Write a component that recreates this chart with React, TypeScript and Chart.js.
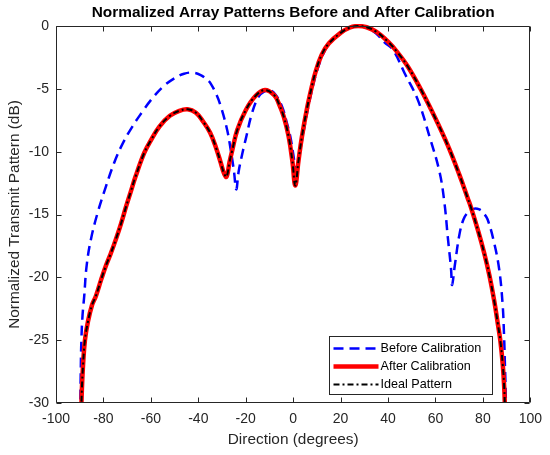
import { useEffect, useRef } from "react";
import { Chart, registerables } from "chart.js";

Chart.register(...registerables);

const FONT = "'Liberation Sans', Arial, Helvetica, sans-serif";

const chartTitle = "Normalized Array Patterns Before and After Calibration";
const xAxisTitle = "Direction (degrees)";
const yAxisTitle = "Normalized Transmit Pattern (dB)";

const xMin = -100;
const xMax = 100;
const xStep = 20;
const yMin = -30;
const yMax = 0;
const yStep = 5;

const seriesLabels = ["Before Calibration", "After Calibration", "Ideal Pattern"];

// Ideal pattern (after calibration overlaps it)
const idealAngles = [
  -89.4, -89.1, -88.6, -87.8, -86.5, -84.8, -83.2, -81, -79, -76.9, -74.8, -72.7, -70.5, -68.5,
  -66.5, -62.8, -60, -56.4, -52, -48, -44.5, -41, -38, -35, -32.5, -30.5, -29.2, -28.1, -26.8,
  -25.7, -23.6, -20, -15.8, -11.9, -8, -6.1, -4, -1.9, -0.3, 0.9, 2.2, 3.7, 5.8, 7.9, 9.3, 12,
  15, 20, 24, 27.5, 31, 35, 40, 44, 48.4, 54, 59.6, 65.2, 70.1, 73.6, 75, 78, 80.6, 82.8, 84.8,
  86.3, 87.4, 88.4, 89, 89.4,
];
const idealPattern = [
  -31, -29, -27, -25, -23.5, -22.2, -21.5, -20.2, -19.1, -18.1, -17.0, -15.8, -14.4, -13.2,
  -12.0, -10.1, -9.1, -8.0, -7.15, -6.75, -6.63, -6.9, -7.6, -8.5, -9.7, -10.9, -11.7, -12.0,
  -10.8, -9.9, -8.3, -6.7, -5.55, -5.1, -5.5, -6.15, -7.2, -8.8, -10.8, -12.7, -10.8, -8.8, -6.6,
  -4.8, -3.75, -2.3, -1.4, -0.55, -0.12, 0, -0.1, -0.45, -1.25, -2.1, -3.24, -5.1, -7.2, -9.5,
  -11.85, -13.7, -14.45, -16.3, -18.1, -19.9, -21.9, -23.7, -25.1, -27, -28.8, -31,
];
const afterPattern = [
  -31, -29, -27, -25, -23.5, -22.2, -21.5, -20.2, -19.1, -18.1, -17.0, -15.8, -14.4, -13.2,
  -12.0, -10.1, -9.1, -8.0, -7.15, -6.75, -6.63, -6.9, -7.6, -8.5, -9.7, -10.9, -11.7, -12.0,
  -10.8, -9.9, -8.3, -6.7, -5.55, -5.1, -5.5, -6.15, -7.2, -8.8, -10.8, -12.7, -10.8, -8.8, -6.6,
  -4.8, -3.75, -2.3, -1.4, -0.55, -0.12, 0, -0.1, -0.45, -1.25, -2.1, -3.24, -5.1, -7.2, -9.5,
  -11.85, -13.7, -14.45, -16.3, -18.1, -19.9, -21.9, -23.7, -25.1, -27, -28.8, -31,
];

// Before calibration
const beforeAngles = [
  -89.8, -89.6, -89.3, -88.8, -88.1, -87.1, -85.3, -82.5, -79, -75.5, -72, -67.8, -63.5, -60,
  -55, -50, -46, -42.4, -39, -36.1, -34.7, -32.5, -30.5, -27.8, -26.3, -25.0, -24.0, -23, -21.5,
  -20, -17.3, -14.5, -12, -10, -7.5, -4.7, -2.8, -1.2, 0.2, 1.3, 2.5, 4.4, 6.3, 8.3, 10, 12.5,
  15, 20, 24, 27.5, 31, 35, 38.5, 42.1, 47, 52.6, 57.5, 61.7, 63.8, 65.2, 66.6, 67.0, 68.2, 70.1,
  71.8, 73.6, 76, 78.5, 80.3, 82, 84.8, 86.9, 88.3, 88.9, 89.3, 89.6, 89.8,
];
const beforePattern = [
  -31, -28, -25, -23, -21.5, -19.1, -17.0, -14.9, -12.8, -10.9, -9.4, -8.0, -6.8, -5.9, -4.85,
  -4.15, -3.8, -3.71, -3.9, -4.3, -4.6, -5.4, -6.4, -8.3, -9.9, -11.5, -13.0, -11.6, -10.2, -9.0,
  -6.9, -5.6, -5.2, -5.1, -5.45, -6.4, -7.6, -8.8, -10.4, -11.7, -10.4, -8.4, -6.5, -4.8, -3.6,
  -2.3, -1.45, -0.55, -0.12, 0, -0.15, -0.6, -1.3, -1.9, -3.76, -5.9, -8.8, -11.6, -14.1, -16.8,
  -19.4, -20.6, -19.0, -16.6, -15.4, -14.85, -14.55, -14.6, -14.9, -15.4, -17.3, -19.4, -22.1,
  -24.5, -27, -29, -31,
];

const toPoints = (xs: number[], ys: number[]) => xs.map((x, i) => ({ x, y: ys[i] }));

const framePlugin = {
  id: "matlabFrame",
  afterDatasetsDraw(chart: any) {
    const { ctx, chartArea: a, scales } = chart;
    const L = Math.round(a.left) + 0.5;
    const R = Math.round(a.right) - 0.5;
    const T = Math.round(a.top) + 0.5;
    const B = Math.round(a.bottom) - 0.5;
    ctx.save();
    ctx.strokeStyle = "#262626";
    ctx.lineWidth = 1;
    ctx.beginPath();
    ctx.rect(L, T, R - L, B - T);
    const tl = 5;
    scales.x.ticks.forEach((t: any) => {
      const px = Math.round(scales.x.getPixelForValue(t.value)) + 0.5;
      ctx.moveTo(px, B);
      ctx.lineTo(px, B - tl);
      ctx.moveTo(px, T);
      ctx.lineTo(px, T + tl);
    });
    scales.y.ticks.forEach((t: any) => {
      const py = Math.round(scales.y.getPixelForValue(t.value)) + 0.5;
      ctx.moveTo(L, py);
      ctx.lineTo(L + tl, py);
      ctx.moveTo(R, py);
      ctx.lineTo(R - tl, py);
    });
    ctx.stroke();
    ctx.restore();
  },
};

const titleLegendPlugin = {
  id: "titleLegend",
  afterDraw(chart: any) {
    const { ctx, chartArea: a } = chart;
    ctx.save();
    ctx.fillStyle = "#000";
    ctx.font = `bold 15.4px ${FONT}`;
    ctx.textAlign = "center";
    ctx.textBaseline = "middle";
    ctx.fillText(chartTitle, (a.left + a.right) / 2, 13);

    const w = 163;
    const h = 58;
    const x0 = Math.round(a.right) - 201 + 0.5;
    const y0 = Math.round(a.bottom) - 67 + 0.5;
    ctx.fillStyle = "#fff";
    ctx.fillRect(x0, y0, w, h);
    ctx.strokeStyle = "#262626";
    ctx.lineWidth = 1;
    ctx.strokeRect(x0, y0, w, h);
    const ds = chart.data.datasets;
    ds.forEach((d: any, i: number) => {
      const yy = y0 + 12 + i * 18;
      ctx.save();
      ctx.strokeStyle = d.borderColor;
      ctx.lineWidth = d.borderWidth;
      ctx.setLineDash(d.borderDash || []);
      ctx.beginPath();
      ctx.moveTo(x0 + 4, yy);
      ctx.lineTo(x0 + 49, yy);
      ctx.stroke();
      ctx.restore();
      ctx.fillStyle = "#000";
      ctx.font = `12.6px ${FONT}`;
      ctx.textAlign = "left";
      ctx.textBaseline = "middle";
      ctx.fillText(d.label, x0 + 51, yy + 0.5);
    });
    ctx.restore();
  },
};

export default function App() {
  const ref = useRef<HTMLCanvasElement>(null);
  useEffect(() => {
    if (!ref.current) return;
    const lineCommon = {
      pointRadius: 0,
      pointHoverRadius: 0,
      fill: false,
      tension: 0.4,
      clip: { left: 0, right: 0, top: 2, bottom: 0 },
    };
    const chart = new Chart(ref.current, {
      type: "line",
      data: {
        datasets: [
          {
            ...lineCommon,
            label: seriesLabels[0],
            data: toPoints(beforeAngles, beforePattern),
            borderColor: "#0000FF",
            borderWidth: 2.5,
            borderDash: [10, 6],
            order: 3,
          },
          {
            ...lineCommon,
            label: seriesLabels[1],
            data: toPoints(idealAngles, afterPattern),
            borderColor: "#FF0000",
            borderWidth: 4.5,
            order: 2,
          },
          {
            ...lineCommon,
            label: seriesLabels[2],
            data: toPoints(idealAngles, idealPattern),
            borderColor: "#000000",
            borderWidth: 2,
            borderDash: [6, 3, 2, 3],
            order: 1,
          },
        ],
      },
      options: {
        responsive: false,
        maintainAspectRatio: false,
        animation: false,
        events: [],
        layout: { padding: { top: 26, right: 17, left: 0, bottom: 0 } },
        plugins: {
          legend: { display: false },
          title: { display: false },
          tooltip: { enabled: false },
        },
        scales: {
          x: {
            type: "linear",
            min: xMin,
            max: xMax,
            grid: { display: false, drawTicks: false, tickLength: 0 },
            border: { display: false },
            ticks: {
              stepSize: xStep,
              color: "#262626",
              font: { family: FONT, size: 14 },
              padding: 8,
              maxRotation: 0,
              autoSkip: false,
            },
            title: {
              display: true,
              text: xAxisTitle,
              color: "#262626",
              font: { family: FONT, size: 15.4 },
              padding: { top: 0, bottom: 6 },
            },
            afterFit(s: any) {
              s.height = 52;
            },
          },
          y: {
            type: "linear",
            min: yMin,
            max: yMax,
            grid: { display: false, drawTicks: false, tickLength: 0 },
            border: { display: false },
            ticks: {
              stepSize: yStep,
              color: "#262626",
              font: { family: FONT, size: 14 },
              padding: 7,
              autoSkip: false,
            },
            title: {
              display: true,
              text: yAxisTitle,
              color: "#262626",
              font: { family: FONT, size: 15.4 },
              padding: { top: 6, bottom: 0 },
            },
            afterFit(s: any) {
              s.width = 56;
            },
          },
        },
      },
      plugins: [framePlugin, titleLegendPlugin],
    } as any);
    return () => chart.destroy();
  }, []);
  return (
    <div
      style={{
        position: "absolute",
        left: 0,
        top: 0,
        width: 550,
        height: 455,
        background: "#fff",
      }}
    >
      <canvas ref={ref} width={550} height={455} style={{ display: "block", width: 550, height: 455 }} />
    </div>
  );
}
